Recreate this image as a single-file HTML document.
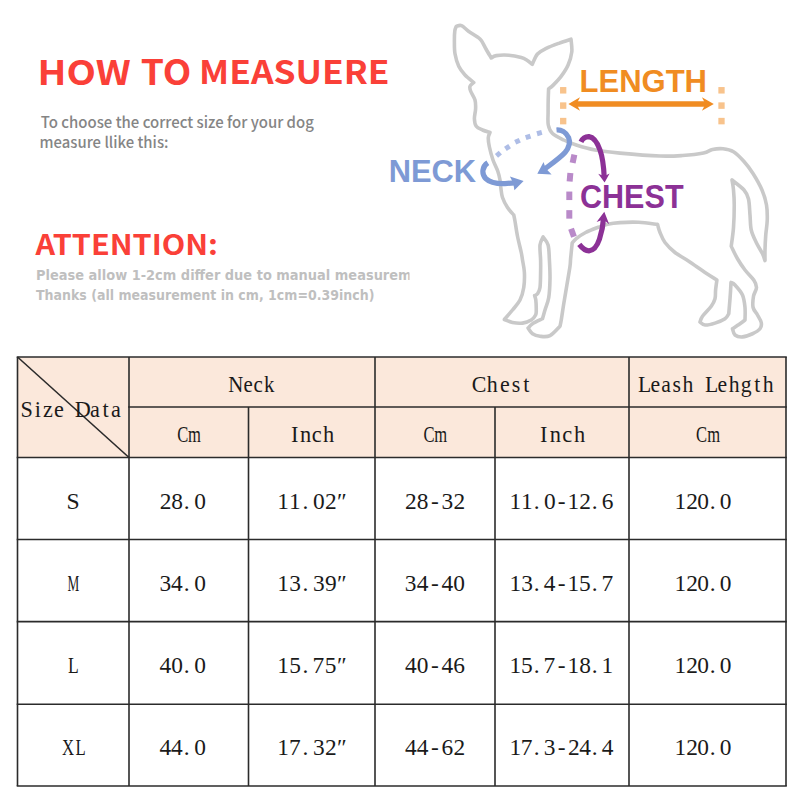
<!DOCTYPE html>
<html><head><meta charset="utf-8"><style>
html,body{margin:0;padding:0;background:#fff;width:800px;height:800px;overflow:hidden}
svg{display:block}
</style></head><body>
<svg width="800" height="800" viewBox="0 0 800 800">
<rect width="800" height="800" fill="#fff"/>
<rect x="17.5" y="357" width="768.5" height="100.5" fill="#fbe8db"/>
<g stroke="#2b2b2b" stroke-width="1.6" fill="none"><line x1="16.7" y1="357" x2="786.8" y2="357"/><line x1="128.2" y1="407" x2="786.8" y2="407"/><line x1="16.7" y1="457.5" x2="786.8" y2="457.5"/><line x1="16.7" y1="539.5" x2="786.8" y2="539.5"/><line x1="16.7" y1="621.6" x2="786.8" y2="621.6"/><line x1="16.7" y1="704.25" x2="786.8" y2="704.25"/><line x1="16.7" y1="786" x2="786.8" y2="786"/><line x1="17.5" y1="357" x2="17.5" y2="786"/><line x1="786" y1="357" x2="786" y2="786"/><line x1="129" y1="357" x2="129" y2="786"/><line x1="375" y1="357" x2="375" y2="786"/><line x1="629" y1="357" x2="629" y2="786"/><line x1="248.5" y1="407" x2="248.5" y2="786"/><line x1="495" y1="407" x2="495" y2="786"/><line x1="17.5" y1="357" x2="129" y2="457.5"/></g>
<g font-family="'Liberation Serif', serif" font-size="23.4" fill="#1a1a1a"><text x="255.65 272.78 284.02 295.85" y="391.8" transform="scale(0.8926 1)">Neck</text>
<text x="502.45 518.56 532.51 544.98 557.38" y="391.8" transform="scale(0.9389 1)">Chest</text>
<text x="689.03 702.49 714.10 726.21 737.10 755.92 761.44 774.90 786.96 800.03 814.46 823.82" y="391.8" transform="scale(0.9260 1)">Leash Lehgth</text>
<text x="250.32 265.60" y="441.8" transform="scale(0.7081 1)">Cm</text>
<text x="598.09 613.44" y="441.8" transform="scale(0.7081 1)">Cm</text>
<text x="982.94 998.85" y="441.8" transform="scale(0.7081 1)">Cm</text>
<text x="304.01 313.48 325.86 337.42" y="441.8" transform="scale(0.9571 1)">Inch</text>
<text x="564.17 574.33 587.39 599.62" y="441.8" transform="scale(0.9571 1)">Inch</text>
<text x="21.64 36.47 45.31 56.84 73.90 78.67 94.61 107.82 116.74" y="417.3" transform="scale(0.9501 1)">Size Data</text>
<text x="65.74" y="508.8" transform="scale(1.0102 1)">S</text>
<text x="159.68 171.15 183.87 194.35" y="508.8">28.0</text>
<text x="277.32 289.12 302.38 313.05 324.98 337.08" y="508.8">11.02″</text>
<text x="405.08 416.70 431.09 441.50 453.48" y="508.8">28-32</text>
<text x="509.62 520.94 533.70 543.89 557.84 567.59 579.36 591.66 601.70" y="508.8">11.0-12.6</text>
<text x="674.42 686.16 697.30 709.70 719.85" y="508.8">120.0</text>
<text x="119.54" y="590.9" transform="scale(0.5656 1)">M</text>
<text x="159.45 171.10 183.87 194.35" y="590.9">34.0</text>
<text x="277.32 289.35 302.38 312.95 324.95 337.08" y="590.9">13.39″</text>
<text x="404.85 416.65 431.09 441.55 453.35" y="590.9">34-40</text>
<text x="509.62 521.16 533.70 543.84 557.84 567.59 579.00 591.66 601.42" y="590.9">13.4-15.7</text>
<text x="674.42 686.16 697.30 709.70 719.85" y="590.9">120.0</text>
<text x="90.14" y="672.9" transform="scale(0.7532 1)">L</text>
<text x="159.50 171.15 183.87 194.35" y="672.9">40.0</text>
<text x="277.32 289.23 302.38 312.62 324.63 337.08" y="672.9">15.75″</text>
<text x="404.90 416.70 431.09 441.55 453.20" y="672.9">40-46</text>
<text x="509.62 521.04 533.70 543.45 557.84 567.59 579.22 591.66 601.52" y="672.9">15.7-18.1</text>
<text x="674.42 686.16 697.30 709.70 719.85" y="672.9">120.0</text>
<text x="86.45 105.47" y="755.0" transform="scale(0.7162 1)">XL</text>
<text x="159.50 171.10 183.87 194.35" y="755.0">44.0</text>
<text x="277.32 289.02 302.38 312.95 324.98 337.08" y="755.0">17.32″</text>
<text x="404.90 416.65 431.09 441.45 453.48" y="755.0">44-62</text>
<text x="509.62 520.83 533.70 543.78 557.84 568.04 579.18 591.66 601.80" y="755.0">17.3-24.4</text>
<text x="674.42 686.16 697.30 709.70 719.85" y="755.0">120.0</text></g>

<text x="37.50" y="84.70" font-family="'Noto Sans CJK SC', sans-serif" font-size="34.33" fill="#fa4038" font-weight="bold" textLength="93.27" lengthAdjust="spacingAndGlyphs">HOW</text><text x="140.75" y="84.70" font-family="'Noto Sans CJK SC', sans-serif" font-size="34.67" fill="#fa4038" font-weight="bold" textLength="50.60" lengthAdjust="spacingAndGlyphs">TO</text><text x="199.00" y="84.20" font-family="'Noto Sans CJK SC', sans-serif" font-size="32.33" fill="#fa4038" font-weight="bold" textLength="190.61" lengthAdjust="spacingAndGlyphs">MEASUERE</text>
<text x="40.80" y="127.70" font-family="'Noto Sans CJK SC', sans-serif" font-size="15.26" fill="#858585" font-weight="500" textLength="273.07" lengthAdjust="spacingAndGlyphs">To choose the correct size for your dog</text><text x="39.60" y="148.30" font-family="'Noto Sans CJK SC', sans-serif" font-size="15.29" fill="#858585" font-weight="500" textLength="128.86" lengthAdjust="spacingAndGlyphs">measure llike this:</text><text x="35.50" y="255.00" font-family="'Noto Sans CJK SC', sans-serif" font-size="27.97" fill="#fa4038" font-weight="bold" textLength="182.54" lengthAdjust="spacingAndGlyphs">ATTENTION:</text>
<svg x="0" y="0" width="409.5" height="320" overflow="hidden"><text x="36.00" y="280.20" font-family="'DejaVu Sans', sans-serif" font-size="14.00" fill="#bfbfbf" font-weight="bold" textLength="399.85" lengthAdjust="spacingAndGlyphs">Please allow 1-2cm differ due to manual measurement</text><text x="36.00" y="300.20" font-family="'DejaVu Sans', sans-serif" font-size="14.00" fill="#bfbfbf" font-weight="bold" textLength="338.40" lengthAdjust="spacingAndGlyphs">Thanks (all measurement in cm, 1cm=0.39inch)</text></svg>

<path d="M456.3 26.2 C457.17 26.1 459.47 24.77 461.5 25.6 C463.53 26.43 465.83 29.3 468.5 31.2 C471.17 33.1 475.33 35.4 477.5 37 C479.67 38.6 480.08 38.8 481.5 40.8 C482.92 42.8 484.38 46.13 486 49 C487.62 51.87 490.38 56.5 491.25 58 C492.08 57.6 493.33 56.07 496.25 55.6 C499.17 55.13 504.58 54.87 508.75 55.2 C512.92 55.53 518.21 56.75 521.25 57.6 C524.29 58.45 525.16 59.18 527 60.3 C528.84 61.42 531.42 63.63 532.3 64.3 C533.17 62.58 535.17 56.65 537.5 54 C539.83 51.35 542.6 50.22 546.25 48.4 C549.9 46.58 555.27 44.63 559.4 43.1 C563.52 41.57 569.07 39.85 571 39.2 C571.13 41.32 572.28 47.6 571.8 51.9 C571.32 56.2 569.88 60.92 568.1 65 C566.32 69.08 563.58 73.05 561.1 76.4 C558.62 79.75 555.33 83.03 553.25 85.1 C551.17 87.17 549.38 88.18 548.6 88.8 C548.53 90.67 548.28 96.13 548.2 100 C548.12 103.87 548.08 107.83 548.1 112 C548.12 116.17 547.57 121.42 548.3 125 C549.03 128.58 549.92 131 552.5 133.5 C555.08 136 559.79 138.08 563.75 140 C567.71 141.92 571.04 143.33 576.25 145 C581.46 146.67 587.71 148.65 595 150 C602.29 151.35 609.17 152.1 620 153.1 C630.83 154.1 649.58 155.6 660 156 C670.42 156.4 675.25 156 682.5 155.5 C689.75 155 698.5 154 703.5 153 C708.5 152 709.25 150.21 712.5 149.5 C715.75 148.79 719.5 148.38 723 148.75 C726.5 149.12 730 149.62 733.5 151.75 C737 153.88 740.75 157.88 744 161.5 C747.25 165.12 750 168.75 753 173.5 C756 178.25 759.75 184.75 762 190 C764.25 195.25 765.62 200 766.5 205 C767.38 210 767.38 215 767.25 220 C767.12 225 766.12 230 765.75 235 C765.38 240 765.12 245.73 765 250 C764.88 254.27 765 258.83 765 260.6 C764.58 259.46 763.96 256.77 762.5 253.75 C761.04 250.73 758.12 246.46 756.25 242.5 C754.38 238.54 752.29 234.58 751.25 230 C750.21 225.42 750.46 220.17 750 215 C749.54 209.83 749.5 203.17 748.5 199 C747.5 194.83 746.75 193.17 744 190 C741.25 186.83 734 181.67 732 180 C732.25 181.67 733.12 185.83 733.5 190 C733.88 194.17 734.25 198.75 734.25 205 C734.25 211.25 734 220.62 733.5 227.5 C733 234.38 731.62 243.12 731.25 246.25 C732.29 248.33 735.21 254.79 737.5 258.75 C739.79 262.71 742.29 266.46 745 270 C747.71 273.54 751.83 277.08 753.75 280 C755.67 282.92 756.54 284.79 756.5 287.5 C756.46 290.21 754.07 292.92 753.5 296.25 C752.93 299.58 752.43 304.38 753.1 307.5 C753.77 310.62 756.14 312.5 757.5 315 C758.86 317.5 760.83 320.21 761.25 322.5 C761.67 324.79 761.46 326.88 760 328.75 C758.54 330.62 755.42 332.39 752.5 333.75 C749.58 335.11 745.42 336.69 742.5 336.9 C739.58 337.11 736.67 336.36 735 335 C733.33 333.64 732.92 329.79 732.5 328.75 C733.75 327.92 737.92 325.21 740 323.75 C742.08 322.29 744.17 320.62 745 320 C745 317.92 745.42 311.67 745 307.5 C744.58 303.33 744.17 298.75 742.5 295 C740.83 291.25 736.92 287.08 735 285 C733.08 282.92 731.67 282.92 731 282.5 C730.93 283.75 730.77 287.29 730.6 290 C730.43 292.71 730.31 294.79 730 298.75 C729.69 302.71 728.96 311.25 728.75 313.75 C728.12 314.58 727.29 317.19 725 318.75 C722.71 320.31 718.33 322.06 715 323.1 C711.67 324.14 707.5 325.18 705 325 C702.5 324.82 700.83 322.5 700 322 C700.42 321.04 700.62 318.88 702.5 316.25 C704.38 313.62 709.17 309.17 711.25 306.25 C713.33 303.33 714.27 301.46 715 298.75 C715.73 296.04 715.28 293.12 715.6 290 C715.92 286.88 716.68 281.67 716.9 280 C714.92 278.75 709.69 275.62 705 272.5 C700.31 269.38 693.75 264.58 688.75 261.25 C683.75 257.92 678.96 255.62 675 252.5 C671.04 249.38 667.5 245.83 665 242.5 C662.5 239.17 661.25 235.52 660 232.5 C658.75 229.48 657.92 225.75 657.5 224.4 C654.38 224.05 645 222.6 638.75 222.3 C632.5 222 625.21 222.28 620 222.6 C614.79 222.92 611.15 223.42 607.5 224.2 C603.85 224.98 601.75 225.92 598.1 227.3 C594.45 228.68 589.24 230.62 585.6 232.5 C581.96 234.38 578.48 236.85 576.25 238.6 C574.02 240.35 572.88 242.27 572.2 243 C571.93 245.62 570.97 254.88 570.6 258.75 C570.23 262.62 570.62 261.88 570 266.25 C569.38 270.62 567.94 278.75 566.9 285 C565.86 291.25 564.69 297.92 563.75 303.75 C562.81 309.58 561.88 316.25 561.25 320 C560.62 323.75 560.21 325.21 560 326.25 C558.33 327.81 553.33 333.93 550 335.6 C546.67 337.27 542.92 336.56 540 336.25 C537.08 335.94 534.48 335.11 532.5 333.75 C530.52 332.39 528.83 329.04 528.1 328.1 C528.83 327.38 530.1 325.31 532.5 323.75 C534.9 322.19 540.83 319.58 542.5 318.75 C542.92 317.29 543.96 313.54 545 310 C546.04 306.46 547.92 302.71 548.75 297.5 C549.58 292.29 549.89 285 550 278.75 C550.11 272.5 549.72 265.62 549.4 260 C549.08 254.38 549.15 248.85 548.1 245 C547.05 241.15 543.93 238.25 543.1 236.9 C542.58 238.25 540.42 241.15 540 245 C539.58 248.85 540.5 255.42 540.6 260 C540.7 264.58 540.7 267.92 540.6 272.5 C540.5 277.08 540.52 283.96 540 287.5 C539.48 291.04 538.4 292.4 537.5 293.75 C536.6 295.1 535.08 295.29 534.6 295.6 C534.8 296.33 535.52 297.6 535.8 300 C536.07 302.4 536.28 307.5 536.25 310 C536.22 312.5 536.43 313.33 535.6 315 C534.77 316.67 533.43 318.65 531.25 320 C529.07 321.35 525.62 322.68 522.5 323.1 C519.38 323.52 515.52 323.1 512.5 322.5 C509.48 321.9 505.75 320 504.4 319.5 C505.75 317.92 509.9 313.25 512.5 310 C515.1 306.75 518.12 303.75 520 300 C521.88 296.25 523.02 292.08 523.75 287.5 C524.48 282.92 524.61 277.08 524.4 272.5 C524.19 267.92 523.02 263.33 522.5 260 C521.98 256.67 522.08 256.46 521.25 252.5 C520.42 248.54 518.54 241.46 517.5 236.25 C516.46 231.04 515.62 224.79 515 221.25 C514.38 217.71 513.96 216.04 513.75 215 C512.71 213.75 509.38 210.42 507.5 207.5 C505.62 204.58 503.62 200.83 502.5 197.5 C501.38 194.17 501.22 190.42 500.8 187.5 C500.38 184.58 500.5 182.71 500 180 C499.5 177.29 498.97 174.58 497.8 171.25 C496.63 167.92 494.42 164.12 493 160 C491.58 155.88 490.08 150.25 489.3 146.5 C488.52 142.75 488.18 139.83 488.3 137.5 C488.42 135.17 489.72 133.33 490 132.5 C488.75 132.08 484.79 131.04 482.5 130 C480.21 128.96 477.6 128.12 476.25 126.25 C474.9 124.38 474.51 121.67 474.4 118.75 C474.29 115.83 475.5 111.88 475.6 108.75 C475.7 105.62 475.83 102.96 475 100 C474.17 97.04 471.43 93.29 470.6 91 C469.77 88.71 469.48 87.67 470 86.25 C470.52 84.83 473.12 83.12 473.75 82.5 C472.29 81.25 467.5 77.71 465 75 C462.5 72.29 460.42 69.79 458.75 66.25 C457.08 62.71 455.73 57.92 455 53.75 C454.27 49.58 454.43 45.04 454.4 41.25 C454.37 37.46 454.48 33.51 454.8 31 C455.12 28.49 456.05 27 456.3 26.2 Z" fill="none" stroke="#c9c9c9" stroke-width="3.6" stroke-linejoin="round" stroke-linecap="round"/>

<!-- orange -->
<rect x="560.0500000000001" y="87.05" width="6.3" height="6.5" transform="rotate(0 563.2 90.3)" fill="#f8c38c"/><rect x="560.0500000000001" y="102.35" width="6.3" height="6.5" transform="rotate(0 563.2 105.6)" fill="#f8c38c"/><rect x="560.0500000000001" y="117.85" width="6.3" height="6.5" transform="rotate(0 563.2 121.1)" fill="#f8c38c"/><rect x="718.35" y="87.05" width="6.3" height="6.5" transform="rotate(0 721.5 90.3)" fill="#f8c38c"/><rect x="718.35" y="102.35" width="6.3" height="6.5" transform="rotate(0 721.5 105.6)" fill="#f8c38c"/><rect x="718.35" y="117.85" width="6.3" height="6.5" transform="rotate(0 721.5 121.1)" fill="#f8c38c"/>
<g fill="#f08c22">
<rect x="575" y="101.25" width="132" height="5.5"/>
<path d="M568.4 104 L580 97.3 L576.5 104 L580 110.7 Z"/>
<path d="M713.8 104 L701.9 97.3 L705.5 104 L701.9 110.7 Z"/>
</g>
<text x="579.50" y="92.10" font-family="'Liberation Sans', sans-serif" font-size="31.56" fill="#f08c22" font-weight="bold" textLength="127.53" lengthAdjust="spacingAndGlyphs">LENGTH</text>

<!-- blue -->
<rect x="495.9" y="151.8" width="5" height="5" transform="rotate(-40 498.4 154.3)" fill="#aebde6"/><rect x="505.0" y="145.0" width="5" height="5" transform="rotate(-33 507.5 147.5)" fill="#aebde6"/><rect x="515.0" y="138.75" width="5" height="5" transform="rotate(-25 517.5 141.25)" fill="#aebde6"/><rect x="525.6" y="134.4" width="5" height="5" transform="rotate(-18 528.1 136.9)" fill="#aebde6"/><rect x="536.9" y="130.6" width="5" height="5" transform="rotate(-15 539.4 133.1)" fill="#aebde6"/>
<g fill="none" stroke="#7e9ad5" stroke-width="5.2">
<path d="M487.8 162.8 C482 166.5 481.3 174 485.8 178.6 C490 182.8 497 183.8 505 183.6 L515 182.8"/>
<path d="M556.5 130 C561 129.6 566 132 568.6 137.6 C570.6 142.5 568.8 148 565 152.5 C561 157 555 161.3 544.8 169"/>
</g>
<g fill="#7e9ad5">
<path d="M523.6 180.9 L509.9 176.4 L513.2 183 L514.4 190.2 Z"/>
<path d="M537.3 173.8 L543.6 162 L545.6 168.2 L551.6 174.6 Z"/>
</g>
<text x="388.75" y="182.00" font-family="'Liberation Sans', sans-serif" font-size="31.57" fill="#7e9ad5" font-weight="bold" textLength="87.36" lengthAdjust="spacingAndGlyphs">NECK</text>

<!-- purple -->
<rect x="570.5" y="154.55" width="6" height="8.5" transform="rotate(12 573.5 158.8)" fill="#b98ac9"/><rect x="567.0" y="172.95" width="6" height="8.5" transform="rotate(5 570 177.2)" fill="#b98ac9"/><rect x="566.3" y="191.55" width="6" height="8.5" transform="rotate(0 569.3 195.8)" fill="#b98ac9"/><rect x="566.3" y="210.15" width="6" height="8.5" transform="rotate(0 569.3 214.4)" fill="#b98ac9"/><rect x="569.5" y="228.45" width="6" height="8.5" transform="rotate(-20 572.5 232.7)" fill="#b98ac9"/>
<g fill="none" stroke="#8c3196" stroke-width="5.2">
<path d="M581 141.8 C583 137.5 586 136.5 589 136.6 C594 137.3 597.5 143 600 150 C602.5 157 603.6 164 604.2 177"/>
<path d="M579.3 244.4 C582 248 585.5 250.8 589 250.8 C594 250.5 597.5 245 599.5 239 C601.5 233 603 227 603.5 218.5"/>
</g>
<g fill="#8c3196">
<path d="M604.6 182.6 L598.2 173.8 L604.3 176.3 L609.6 173.6 Z"/>
<path d="M604.3 211.8 L596.6 221.9 L603.4 219.4 L609.2 224.2 Z"/>
</g>
<text x="580.00" y="208.10" font-family="'Liberation Sans', sans-serif" font-size="32.42" fill="#8c3196" font-weight="bold" textLength="103.55" lengthAdjust="spacingAndGlyphs">CHEST</text>
</svg>
</body></html>
